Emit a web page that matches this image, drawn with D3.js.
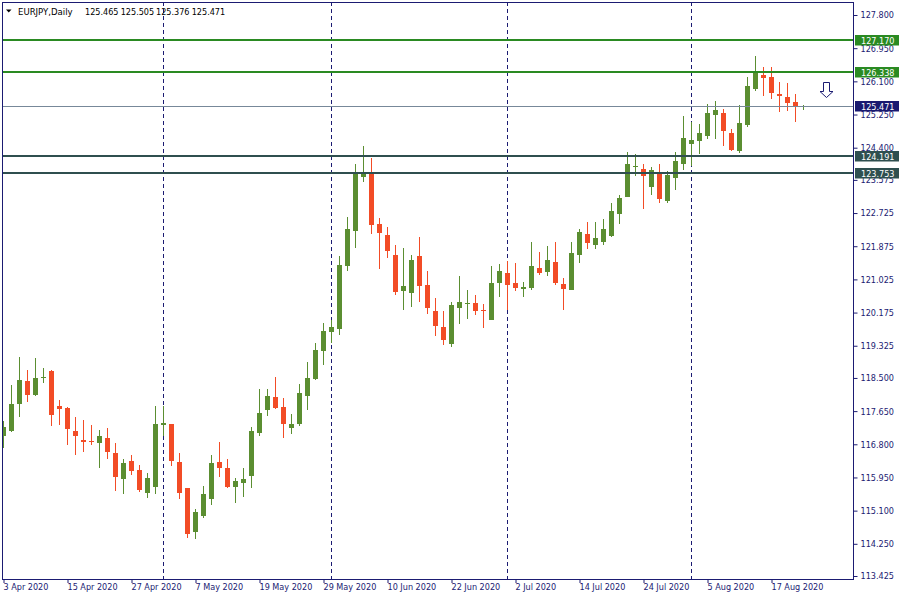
<!DOCTYPE html>
<html><head><meta charset="utf-8">
<script src="https://cdn.jsdelivr.net/npm/d3@7"></script>
<style>
html,body{margin:0;padding:0;background:#fff;}
svg{display:block;font-family:"DejaVu Sans Condensed","DejaVu Sans",sans-serif;}
</style>
</head><body>
<svg id="c" width="900" height="600"></svg>
<script>
// ---------- DATA ----------
const symbol = "EURJPY,Daily";
const headerValues = ["125.465", "125.505", "125.376", "125.471"];
const firstDay = new Date(2020, 3, 3), endDay = new Date(2020, 7, 22);
const dates = d3.timeDays(firstDay, endDay).filter(d => d.getDay() !== 0 && d.getDay() !== 6);

const opens = [117.00,117.15,117.82,118.42,118.07,118.50,118.68,117.78,117.73,117.14,
116.92,116.89,116.84,116.96,116.58,115.92,116.37,116.14,115.56,115.71,
117.30,117.32,116.35,115.68,114.56,114.95,115.41,116.35,116.19,115.71,
115.82,115.99,117.10,117.69,118.01,117.76,117.23,117.33,118.05,118.48,
119.20,119.69,119.75,121.38,122.27,123.66,123.75,122.45,122.16,121.65,
120.74,120.68,121.63,120.88,120.22,119.81,119.38,120.30,120.40,120.42,
120.24,119.99,120.92,121.19,120.92,120.77,120.81,121.32,121.22,121.47,
120.91,120.76,121.66,122.19,121.91,121.99,122.14,122.71,123.14,123.92,
123.85,123.40,123.76,123.03,123.63,123.99,124.50,124.58,124.71,125.25,
125.29,124.78,124.32,124.99,125.91,126.26,126.21,125.78,125.70,125.57,125.465];
const highs = [117.40,118.32,119.04,118.70,119.01,118.76,118.70,117.94,117.76,117.50,
117.42,117.30,117.17,117.22,116.83,116.42,116.53,116.27,116.07,117.78,
117.78,117.33,116.58,115.69,115.14,115.73,116.53,116.86,116.42,115.94,
116.19,117.24,118.22,118.22,118.53,117.99,117.58,118.35,118.91,119.40,
119.91,119.98,121.63,122.63,123.98,124.44,124.14,122.60,122.37,121.91,
121.83,121.65,122.11,121.24,120.55,120.22,120.45,121.11,120.75,120.63,
120.40,121.37,121.42,121.50,121.45,120.96,121.98,121.73,121.88,121.98,
121.06,121.98,122.32,122.50,122.50,122.57,122.98,123.19,124.29,124.24,
123.98,123.91,123.98,123.80,124.29,125.21,125.06,125.01,125.52,125.60,
125.39,124.88,125.49,126.21,126.75,126.47,126.47,126.08,126.06,125.78,125.505];
const lows = [116.71,117.12,117.51,117.89,118.05,118.38,117.28,117.30,116.79,116.53,
116.61,116.77,116.20,116.43,115.61,115.53,116.02,115.59,115.43,115.53,
117.00,116.25,115.41,114.41,114.38,114.92,115.25,115.95,115.69,115.30,
115.46,115.69,117.02,117.53,117.71,116.97,117.07,117.28,117.69,118.46,
118.84,119.40,119.61,121.25,121.84,123.53,122.20,121.30,121.58,120.63,
120.25,120.33,120.45,120.15,119.58,119.35,119.30,119.89,120.02,120.12,
119.79,119.98,120.58,120.25,120.74,120.58,120.76,121.15,121.12,120.89,
120.25,120.75,121.45,121.81,121.81,121.91,122.11,122.45,123.13,123.68,
122.84,123.20,122.99,122.99,123.32,123.84,123.94,124.25,124.63,124.63,
124.45,124.32,124.27,124.94,125.86,125.73,125.66,125.32,125.35,125.07,125.376];
const closes = [117.24,117.83,118.45,118.07,118.50,118.53,117.56,117.71,117.18,117.00,
116.87,116.87,117.01,116.61,115.95,116.32,116.12,115.64,115.94,117.32,
117.35,116.38,115.54,114.49,115.07,115.53,116.32,116.20,115.71,115.86,
115.91,117.14,117.60,118.04,117.74,117.33,117.32,118.11,118.50,119.22,
119.70,119.81,121.39,122.32,123.75,123.75,122.43,122.22,121.76,120.71,
120.86,121.52,120.86,120.30,119.84,119.46,120.37,120.45,120.42,120.22,
120.22,120.93,121.24,120.89,120.81,120.84,121.37,121.20,121.52,120.94,
120.79,121.70,122.24,121.97,122.09,122.32,122.78,123.11,123.98,123.94,
123.68,123.83,123.09,123.70,124.06,124.65,124.60,124.78,125.29,125.37,
124.84,124.35,125.03,125.98,126.32,126.19,125.81,125.73,125.55,125.48,125.471];

const yTicks = [127.800,126.950,126.100,125.250,124.400,123.575,122.725,121.875,121.025,
120.175,119.325,118.500,117.650,116.800,115.950,115.100,114.250,113.425];
const xTickLabels = ["3 Apr 2020","15 Apr 2020","27 Apr 2020","7 May 2020","19 May 2020",
"29 May 2020","10 Jun 2020","22 Jun 2020","2 Jul 2020","14 Jul 2020","24 Jul 2020",
"5 Aug 2020","17 Aug 2020"];
const resistanceLevels = [127.170, 126.338];
const supportLevels = [124.191, 123.753];
const arrowPrice = 125.70;
const arrowBarsAhead = 3;

// ---------- STYLE ----------
const bullColor = "#5b8e31", bearColor = "#f24c26";
const frameColor = "#1b1b72", textColor = "#1b1b72";
const resColor = "#2a8a22", supColor = "#2f4f4f", bidColor = "#778899", bidLabelColor = "#191970";
const FONT = '"DejaVu Sans Condensed","DejaVu Sans",sans-serif';

// ---------- SCALES ----------
const svg = d3.select("#c");
const n = dates.length;
const x = d3.scalePoint().domain(d3.range(n)).range([3, 3 + 8 * (n - 1)]);
const y = d3.scaleLinear().domain([113.425, 127.8]).range([576, 15]);
const fmtDate = d3.timeFormat("%-d %b %Y");

const plotL = 2, plotR = 854, plotT = 2, plotB = 579;

svg.append("defs").append("clipPath").attr("id", "clip")
  .append("rect").attr("x", plotL + 1).attr("y", plotT + 1)
  .attr("width", plotR - plotL - 1).attr("height", plotB - plotT - 1);

// month separators
const sepIdx = d3.range(1, n).filter(i => dates[i].getMonth() !== dates[i - 1].getMonth());
svg.append("g").selectAll("line").data(sepIdx).join("line")
  .attr("x1", i => x(i) + 0.5).attr("x2", i => x(i) + 0.5)
  .attr("y1", plotT).attr("y2", plotB)
  .attr("stroke", frameColor).attr("stroke-width", 1).attr("stroke-dasharray", "4,3");

// candles
const cg = svg.append("g").attr("clip-path", "url(#clip)");
const idx = d3.range(n);
const col = i => closes[i] >= opens[i] ? bullColor : bearColor;
cg.selectAll("rect.w").data(idx).join("rect").attr("class", "w")
  .attr("x", i => x(i)).attr("width", 1)
  .attr("y", i => Math.round(y(highs[i])))
  .attr("height", i => Math.max(1, Math.round(y(lows[i])) - Math.round(y(highs[i]))))
  .attr("fill", col);
cg.selectAll("rect.b").data(idx).join("rect").attr("class", "b")
  .attr("x", i => x(i) - 2).attr("width", 5)
  .attr("y", i => Math.round(y(Math.max(opens[i], closes[i]))))
  .attr("height", i => Math.max(1, Math.round(y(Math.min(opens[i], closes[i]))) - Math.round(y(Math.max(opens[i], closes[i])))))
  .attr("fill", col);

// bid line
const bid = closes[n - 1];
svg.append("line").attr("x1", plotL).attr("x2", plotR)
  .attr("y1", Math.round(y(bid)) + 0.5).attr("y2", Math.round(y(bid)) + 0.5)
  .attr("stroke", bidColor).attr("stroke-width", 1);

// horizontal levels
const levels = resistanceLevels.map(p => ({p, c: resColor})).concat(supportLevels.map(p => ({p, c: supColor})));
svg.append("g").selectAll("line").data(levels).join("line")
  .attr("x1", plotL).attr("x2", plotR)
  .attr("y1", d => Math.round(y(d.p))).attr("y2", d => Math.round(y(d.p)))
  .attr("stroke", d => d.c).attr("stroke-width", 2);

// arrow object
const ax = x(n - 1) + arrowBarsAhead * x.step() - 0.5, ay = Math.round(y(arrowPrice)) + 0.5;
svg.append("path")
  .attr("d", `M${ax-3},${ay-15} L${ax+3},${ay-15} L${ax+3},${ay-6} L${ax+6.5},${ay-6} L${ax},${ay} L${ax-6.5},${ay-6} L${ax-3},${ay-6} Z`)
  .attr("fill", "#fff").attr("stroke", frameColor).attr("stroke-width", 1);

// frame
const fr = svg.append("g").attr("stroke", frameColor).attr("stroke-width", 1);
fr.append("line").attr("x1", plotL + 0.5).attr("x2", plotL + 0.5).attr("y1", plotT).attr("y2", plotB + 1);
fr.append("line").attr("x1", plotL).attr("x2", plotR).attr("y1", plotB + 0.5).attr("y2", plotB + 0.5);
fr.append("line").attr("x1", plotL).attr("x2", plotR).attr("y1", plotT + 0.5).attr("y2", plotT + 0.5);
fr.append("line").attr("x1", plotR - 0.5).attr("x2", plotR - 0.5).attr("y1", plotT).attr("y2", plotB + 1);

// y axis
const yAxis = svg.append("g").attr("transform", `translate(${plotR - 0.5},0)`)
  .call(d3.axisRight(y).tickValues(yTicks).tickFormat(d3.format(".3f")).tickSize(4).tickPadding(3));
yAxis.select(".domain").remove();
yAxis.selectAll("line").attr("stroke", frameColor);
yAxis.selectAll("text").attr("fill", textColor).style("font-size", "9px").style("font-family", FONT);

// x axis
const tickIdx = xTickLabels.map(l => dates.findIndex(d => fmtDate(d) === l));
const xAxis = svg.append("g").attr("transform", `translate(0,${plotB})`)
  .call(d3.axisBottom(x).tickValues(tickIdx).tickFormat((d, k) => xTickLabels[k]).tickSize(4));
xAxis.select(".domain").remove();
xAxis.selectAll("line").attr("stroke", frameColor).attr("transform", "translate(0.5,0)");
xAxis.selectAll("text").attr("fill", textColor).attr("text-anchor", "start")
  .attr("x", 0).attr("y", 10.5).attr("dy", 0).style("font-size", "9px").style("font-family", FONT);

// price labels
const priceLabels = levels.map(d => ({p: d.p, c: d.c})).concat([{p: bid, c: bidLabelColor}]);
const pl = svg.append("g").selectAll("g").data(priceLabels).join("g")
  .attr("transform", d => `translate(${plotR + 1},${Math.round(y(d.p))})`);
pl.append("rect").attr("x", 0).attr("y", -5).attr("width", 44).attr("height", 10.5).attr("fill", d => d.c);
pl.append("text").attr("x", 6).attr("y", 3.5).attr("fill", "#fff").style("font-size", "9px")
  .text(d => d3.format(".3f")(d.p));

// title
svg.append("path").attr("d", "M6,9.5 L11.5,9.5 L8.75,12.5 Z").attr("fill", "#000");
const tg = svg.append("g").attr("fill", "#000").style("font-size", "9.5px");
tg.append("text").attr("x", 18).attr("y", 15).text(symbol);
const hx = [85, 120.7, 156, 191.7];
tg.selectAll("text.v").data(headerValues).join("text").attr("class", "v")
  .attr("x", (d, i) => hx[i]).attr("y", 15).style("font-size", "9px").text(d => d);
</script>
</body></html>
